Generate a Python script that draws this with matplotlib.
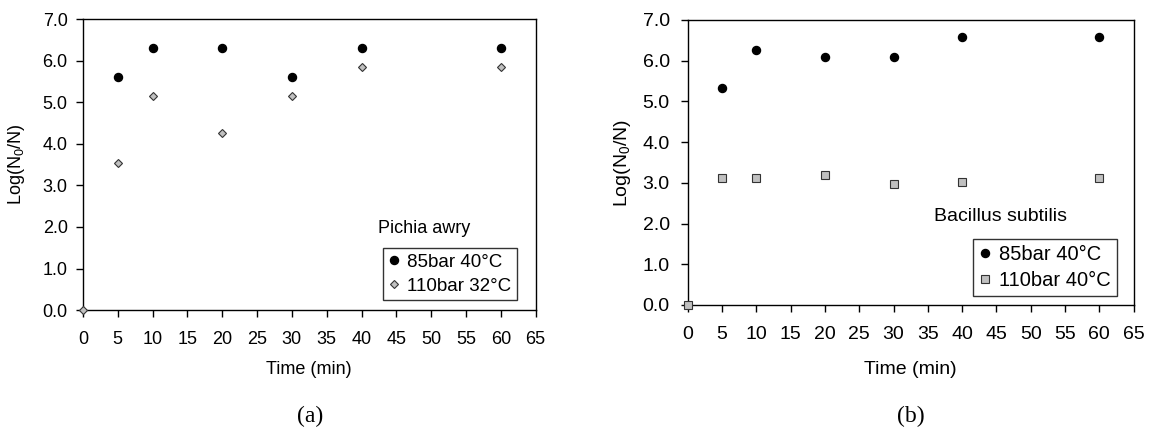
import numpy as np
import matplotlib.pyplot as plt

plt.rcParams['font.family'] = ['Liberation Sans', 'DejaVu Sans']
plt.rcParams['mathtext.fontset'] = 'custom'
plt.rcParams['mathtext.rm'] = 'Liberation Sans'
plt.rcParams['mathtext.it'] = 'Liberation Sans'

# Dane
czas = [0, 5, 10, 20, 30, 40, 60]

pichia_85 = [0.0, 5.6, 6.3, 6.3, 5.6, 6.3, 6.3]
pichia_110 = [0.0, 3.53, 5.14, 4.25, 5.14, 5.84, 5.84]

bacillus_85 = [0.0, 5.33, 6.26, 6.09, 6.09, 6.57, 6.57]
bacillus_110 = [0.0, 3.11, 3.11, 3.19, 2.98, 3.03, 3.11]

fig = plt.figure(figsize=(11.52, 4.32), dpi=100)
ax1 = fig.add_axes([0.072, 0.282, 0.393, 0.674])
ax2 = fig.add_axes([0.597, 0.294, 0.387, 0.660])


def rysuj(ax, y1, y2, lab1, lab2, marker2, ms2, tytul, leg_pos, tyt_pos, fs, ypad, ylab_x, xlab_y):
    ax.plot(czas[1:], y1[1:], 'o', color='black', markersize=5.8, label=lab1, clip_on=False)
    ax.plot(czas, y2, marker2, markerfacecolor='#c0c0c0', markeredgecolor='#333333',
            markeredgewidth=0.8, markersize=ms2, label=lab2, clip_on=False, zorder=3)
    ax.set_xlim(0, 65)
    ax.set_ylim(0, 7)
    ax.set_xticks(np.arange(0, 70, 5))
    ax.set_yticks(np.arange(0, 8, 1))
    ax.set_yticklabels(['%.1f' % v for v in np.arange(0, 8, 1)])
    ax.tick_params(direction='out', length=5, width=1, labelsize=fs)
    ax.tick_params(axis='y', pad=ypad)
    ax.tick_params(axis='x', pad=10)
    for s in ax.spines.values():
        s.set_linewidth(1)
    ax.set_xlabel('Time (min)', fontsize=fs)
    ax.set_ylabel(r'Log(N$_0$/N)', fontsize=fs)
    ax.xaxis.set_label_coords(0.5, xlab_y)
    ax.yaxis.set_label_coords(ylab_x, 0.5)
    leg = ax.legend(loc='lower right', bbox_to_anchor=leg_pos, fontsize=fs + 0.5, frameon=True,
                    fancybox=False, edgecolor='black', handlelength=0.6, handletextpad=0.4,
                    borderpad=0.3, labelspacing=0.35, borderaxespad=0)
    leg.get_frame().set_linewidth(1)
    ax.text(tyt_pos[0], tyt_pos[1], tytul, transform=ax.transAxes, fontsize=fs, va='center')


rysuj(ax1, pichia_85, pichia_110, '85bar 40°C', '110bar 32°C', 'D', 3.8,
      'Pichia awry', (0.958, 0.034), (0.651, 0.282), 13, 6, -0.124, -0.175)
rysuj(ax2, bacillus_85, bacillus_110, '85bar 40°C', '110bar 40°C', 's', 5.5,
      'Bacillus subtilis', (0.962, 0.032), (0.552, 0.309), 14, 8, -0.123, -0.196)

fig.text(0.269, 0.035, '(a)', family='Liberation Serif', fontsize=17, ha='center', va='center')
fig.text(0.791, 0.035, '(b)', family='Liberation Serif', fontsize=17, ha='center', va='center')

plt.savefig('out.png', dpi=100)
